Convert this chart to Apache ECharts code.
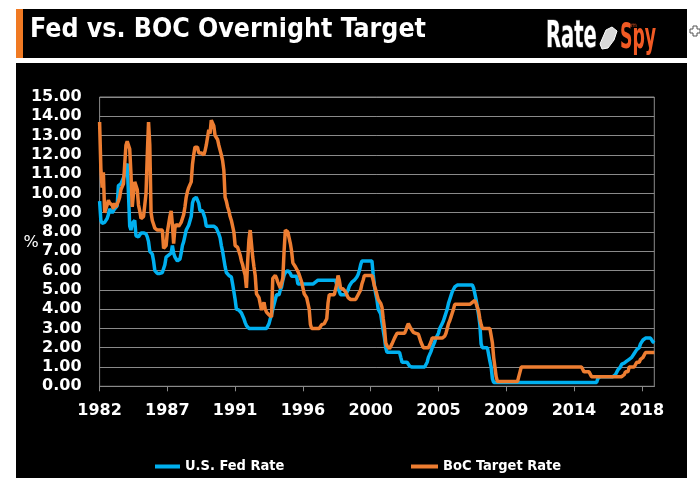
<!DOCTYPE html>
<html>
<head>
<meta charset="utf-8">
<script src="https://cdn.jsdelivr.net/npm/echarts@6/dist/echarts.min.js"></script>
<style>
  html, body { margin: 0; padding: 0; background: #ffffff; }
  #chart { width: 700px; height: 489px; }
</style>
</head>
<body>
<div id="chart"></div>
<script>
// Monthly data starting October 1982
const startYear = 1982;
const startMonth = 10;
const seriesNames = ['U.S. Fed Rate', 'BoC Target Rate'];
const titleText = 'Fed vs. BOC Overnight Target';

const fedRate = [
9.6, 8.6, 8.45, 8.45, 8.5, 8.6, 8.7, 8.9, 9.2, 9.1,
9.0, 9.1, 9.2, 9.3, 9.35, 10.4, 10.5, 10.5, 10.6, 10.8,
11.0, 11.3, 11.55, 10.0, 8.3, 8.1, 8.45, 8.5, 8.6, 7.8,
7.75, 7.75, 7.8, 7.95, 8.0, 7.95, 7.9, 7.9, 7.75, 7.5,
7.0, 6.95, 6.85, 6.5, 6.0, 5.9, 5.85, 5.85, 5.85, 5.85,
5.9, 6.0, 6.3, 6.7, 6.75, 6.8, 6.8, 6.9, 7.3, 6.9,
6.7, 6.6, 6.5, 6.5, 6.6, 6.9, 7.3, 7.5, 7.8, 8.1,
8.2, 8.35, 8.4, 8.8, 9.5, 9.7, 9.8, 9.8, 9.75, 9.5,
9.1, 9.1, 9.1, 9.0, 8.7, 8.3, 8.3, 8.3, 8.3, 8.3,
8.3, 8.3, 8.3, 8.2, 8.1, 7.9, 7.7, 7.3, 7.0, 6.6,
6.2, 5.9, 5.8, 5.75, 5.7, 5.67, 5.3, 4.9, 4.5, 4.0,
4.0, 3.95, 3.95, 3.8, 3.7, 3.5, 3.3, 3.15, 3.05, 3.0,
3.0, 3.0, 3.0, 3.0, 3.0, 3.0, 3.0, 3.0, 3.0, 3.0,
3.0, 3.0, 3.0, 3.0, 3.0, 3.25, 3.5, 3.7, 4.0, 4.25,
4.5, 4.75, 4.75, 4.75, 5.0, 5.15, 5.5, 5.75, 5.9, 6.0,
6.0, 6.0, 5.85, 5.7, 5.7, 5.7, 5.7, 5.7, 5.3, 5.3,
5.3, 5.3, 5.3, 5.3, 5.3, 5.3, 5.3, 5.3, 5.3, 5.3,
5.3, 5.3, 5.4, 5.5, 5.5, 5.5, 5.5, 5.5, 5.5, 5.5,
5.5, 5.5, 5.5, 5.5, 5.5, 5.5, 5.5, 5.5, 5.5, 5.25,
5.1, 5.0, 4.75, 4.75, 4.75, 4.75, 4.75, 4.75, 5.0, 5.2,
5.25, 5.4, 5.4, 5.5, 5.5, 5.67, 5.8, 6.0, 6.3, 6.5,
6.5, 6.5, 6.5, 6.5, 6.5, 6.5, 6.5, 6.5, 5.8, 5.2,
4.8, 4.5, 4.0, 3.9, 3.75, 3.3, 2.9, 2.5, 2.0, 1.76,
1.76, 1.76, 1.76, 1.76, 1.76, 1.76, 1.76, 1.76, 1.76, 1.76,
1.5, 1.25, 1.25, 1.25, 1.25, 1.25, 1.25, 1.05, 1.0, 1.0,
1.0, 1.0, 1.0, 1.0, 1.0, 1.0, 1.0, 1.0, 1.0, 1.0,
1.1, 1.25, 1.5, 1.6, 1.8, 2.0, 2.1, 2.3, 2.5, 2.6,
2.75, 3.0, 3.1, 3.25, 3.4, 3.6, 3.8, 4.0, 4.3, 4.5,
4.7, 4.9, 5.0, 5.15, 5.25, 5.25, 5.25, 5.25, 5.25, 5.25,
5.25, 5.25, 5.25, 5.25, 5.25, 5.25, 5.25, 5.25, 5.1, 4.8,
4.5, 4.1, 3.7, 3.2, 2.2, 2.0, 2.0, 2.0, 2.0, 2.0,
2.0, 1.3, 1.0, 0.4, 0.2, 0.2, 0.2, 0.2, 0.2, 0.2,
0.2, 0.2, 0.2, 0.2, 0.2, 0.2, 0.2, 0.2, 0.2, 0.2,
0.2, 0.2, 0.2, 0.2, 0.2, 0.2, 0.2, 0.2, 0.2, 0.2,
0.2, 0.2, 0.2, 0.2, 0.2, 0.2, 0.2, 0.2, 0.2, 0.2,
0.2, 0.2, 0.2, 0.2, 0.2, 0.2, 0.2, 0.2, 0.2, 0.2,
0.2, 0.2, 0.2, 0.2, 0.2, 0.2, 0.2, 0.2, 0.2, 0.2,
0.2, 0.2, 0.2, 0.2, 0.2, 0.2, 0.2, 0.2, 0.2, 0.2,
0.2, 0.2, 0.2, 0.2, 0.2, 0.2, 0.2, 0.2, 0.2, 0.2,
0.2, 0.2, 0.2, 0.2, 0.2, 0.2, 0.2, 0.4, 0.5, 0.5,
0.5, 0.5, 0.5, 0.5, 0.5, 0.5, 0.5, 0.5, 0.5, 0.5,
0.5, 0.6, 0.7, 0.85, 0.9, 1.0, 1.15, 1.2, 1.2, 1.2,
1.3, 1.3, 1.4, 1.5, 1.5, 1.6, 1.7, 1.75, 1.9, 2.0,
2.0, 2.2, 2.25, 2.4, 2.5, 2.5, 2.5, 2.5, 2.5, 2.5,
2.4, 2.3, 2.25
];

const bocRate = [
13.7, 11.3, 10.3, 11.1, 9.0, 8.9, 9.4, 9.65, 9.5, 9.6,
9.4, 9.2, 9.5, 9.3, 9.2, 9.6, 9.8, 10.2, 10.3, 10.5,
11.5, 12.5, 12.7, 12.6, 12.3, 11.0, 9.3, 10.0, 10.6, 10.5,
10.2, 9.4, 9.1, 8.7, 8.6, 8.8, 8.9, 10.0, 12.0, 13.7,
12.5, 9.0, 8.6, 8.4, 8.2, 8.2, 8.1, 8.0, 8.1, 8.2,
8.1, 7.15, 7.15, 7.3, 8.0, 8.4, 8.8, 9.1, 8.4, 7.4,
8.2, 8.4, 8.3, 8.3, 8.4, 8.5, 8.7, 8.9, 9.3, 9.8,
10.1, 10.3, 10.4, 10.6, 11.5, 12.0, 12.4, 12.5, 12.4, 12.1,
12.0, 12.1, 12.1, 12.0, 12.2, 12.5, 12.9, 13.3, 13.1, 13.8,
13.7, 13.5, 13.0, 13.0, 12.8, 12.5, 12.4, 12.0, 11.7, 11.2,
9.8, 9.6, 9.3, 9.1, 8.8, 8.6, 8.5, 8.0, 7.3, 7.2,
7.2, 7.1, 6.8, 6.5, 6.3, 6.0, 5.75, 5.1, 6.5, 7.6,
8.1, 7.4, 6.7, 6.2, 5.75, 4.8, 4.7, 4.6, 4.5, 3.95,
4.2, 4.35, 4.0, 3.85, 3.9, 3.7, 3.7, 3.6, 5.6, 5.7,
5.75, 5.6, 5.4, 5.3, 5.1, 5.0, 5.6, 7.0, 8.1, 8.1,
8.0, 7.7, 7.4, 7.0, 6.4, 6.3, 6.2, 6.1, 5.95, 5.8,
5.6, 5.4, 5.1, 4.8, 4.7, 4.6, 4.5, 4.0, 3.2, 3.0,
3.0, 3.0, 3.0, 3.0, 3.0, 3.0, 3.1, 3.2, 3.25, 3.25,
3.3, 3.5, 4.3, 4.75, 4.75, 4.75, 4.75, 4.75, 4.8, 5.3,
5.75, 5.5, 5.1, 5.05, 5.05, 5.0, 4.9, 4.75, 4.6, 4.5,
4.5, 4.5, 4.5, 4.5, 4.5, 4.6, 4.75, 4.75, 5.0, 5.3,
5.5, 5.75, 5.75, 5.75, 5.75, 5.75, 5.75, 5.75, 5.5, 5.2,
5.0, 4.75, 4.5, 4.5, 4.3, 4.1, 3.5, 3.0, 2.25, 2.1,
2.0, 1.95, 2.0, 2.2, 2.3, 2.5, 2.6, 2.75, 2.75, 2.75,
2.75, 2.75, 2.75, 2.75, 2.9, 3.1, 3.25, 3.2, 3.0, 2.9,
2.8, 2.75, 2.75, 2.75, 2.7, 2.5, 2.3, 2.2, 2.0, 2.0,
2.0, 2.0, 2.0, 2.0, 2.3, 2.5, 2.5, 2.5, 2.5, 2.5,
2.5, 2.5, 2.5, 2.5, 2.5, 2.6, 2.75, 3.0, 3.25, 3.4,
3.6, 3.8, 4.0, 4.25, 4.25, 4.25, 4.25, 4.25, 4.25, 4.25,
4.25, 4.25, 4.25, 4.25, 4.25, 4.25, 4.25, 4.35, 4.45, 4.45,
4.3, 4.1, 3.9, 3.5, 3.2, 3.0, 3.0, 3.0, 3.0, 3.0,
3.0, 3.0, 3.0, 2.25, 1.5, 1.0, 0.5, 0.25, 0.25, 0.25,
0.25, 0.25, 0.25, 0.25, 0.25, 0.25, 0.25, 0.25, 0.25, 0.25,
0.25, 0.25, 0.25, 0.25, 0.5, 0.75, 1.0, 1.0, 1.0, 1.0,
1.0, 1.0, 1.0, 1.0, 1.0, 1.0, 1.0, 1.0, 1.0, 1.0,
1.0, 1.0, 1.0, 1.0, 1.0, 1.0, 1.0, 1.0, 1.0, 1.0,
1.0, 1.0, 1.0, 1.0, 1.0, 1.0, 1.0, 1.0, 1.0, 1.0,
1.0, 1.0, 1.0, 1.0, 1.0, 1.0, 1.0, 1.0, 1.0, 1.0,
1.0, 1.0, 1.0, 1.0, 1.0, 1.0, 0.75, 0.75, 0.75, 0.75,
0.75, 0.75, 0.5, 0.5, 0.5, 0.5, 0.5, 0.5, 0.5, 0.5,
0.5, 0.5, 0.5, 0.5, 0.5, 0.5, 0.5, 0.5, 0.5, 0.5,
0.5, 0.5, 0.5, 0.5, 0.5, 0.5, 0.5, 0.5, 0.6, 0.75,
0.75, 0.75, 1.0, 1.0, 1.0, 1.0, 1.0, 1.1, 1.25, 1.25,
1.25, 1.4, 1.5, 1.5, 1.5, 1.75, 1.75, 1.75, 1.75, 1.75,
1.75, 1.75, 1.75
];

// month categories (YYYY-MM), labelled by year every 54 months
const categories = fedRate.map(function (_, i) {
  const m = startMonth - 1 + i;
  return (startYear + Math.floor(m / 12)) + '-' + String(m % 12 + 1).padStart(2, '0');
});

const chart = echarts.init(document.getElementById('chart'), null, { renderer: 'canvas' });

const gridColor = '#8a8a8a';
const fedColor = '#00b0f0';
const bocColor = '#ed7d31';
const condFont = '"DejaVu Sans Condensed", "DejaVu Sans", sans-serif';

chart.setOption({
  animation: false,
  backgroundColor: '#ffffff',
  graphic: [
    { type: 'rect', z: -10, shape: { x: 16, y: 9, width: 671, height: 49 }, style: { fill: '#000000' } },
    { type: 'rect', z: -9, shape: { x: 16, y: 9, width: 7, height: 49 }, style: { fill: '#f07a23' } },
    { type: 'rect', z: -10, shape: { x: 16, y: 63, width: 671, height: 415 }, style: { fill: '#000000' } },
    { type: 'text', z: 5, x: 30, y: 30, style: {
        text: titleText, fill: '#ffffff', fontSize: 26.5, fontWeight: 'bold',
        fontFamily: condFont, verticalAlign: 'middle', align: 'left' } },
    { type: 'text', z: 5, x: 546, y: 37, scaleX: 0.57, style: {
        text: 'Rate', fill: '#ffffff', stroke: '#3a3a3a', lineWidth: 1.5, fontSize: 38, fontWeight: 'bold',
        fontFamily: condFont, verticalAlign: 'middle', align: 'left' } },
    { type: 'polygon', z: 5, shape: { points: [[600,44],[606,30],[612,27],[617,31],[614,40],[608,48],[602,49]] },
      style: { fill: '#d8d8d8', stroke: '#ffffff', lineWidth: 1 } },
    { type: 'text', z: 5, x: 620, y: 39, scaleX: 0.55, style: {
        text: 'Spy', fill: '#f15a24', fontSize: 35, fontWeight: 'bold',
        fontFamily: condFont, verticalAlign: 'middle', align: 'left' } },
    { type: 'text', z: 6, x: 622, y: 25, style: {
        text: '.com', fill: '#f15a24', fontSize: 6,
        fontFamily: '"DejaVu Sans", sans-serif', verticalAlign: 'middle', align: 'left' } },
    { type: 'polygon', z: 5, shape: { points: [[693,26],[697,26],[697,29],[700,29],[700,33],[697,33],[697,36],[693,36],[693,33],[690,33],[690,29],[693,29]] },
      style: { fill: '#ffffff', stroke: '#555555', lineWidth: 1 } },
    { type: 'text', z: 5, x: 31, y: 243, style: {
        text: '%', fill: '#ffffff', fontSize: 16,
        fontFamily: '"DejaVu Sans", sans-serif', verticalAlign: 'middle', align: 'center' } }
  ],
  grid: {
    left: 99.6, right: 45.7, top: 97, bottom: 102.7,
    show: true, borderColor: gridColor, borderWidth: 1, backgroundColor: 'transparent'
  },
  legend: [
    { data: [seriesNames[0]], left: 155, top: 459, padding: 0, icon: 'rect', itemWidth: 25, itemHeight: 4,
      textStyle: { color: '#ffffff', fontSize: 14.5, fontWeight: 'bold', fontFamily: condFont } },
    { data: [seriesNames[1]], left: 411, top: 459, padding: 0, icon: 'rect', itemWidth: 27, itemHeight: 4,
      textStyle: { color: '#ffffff', fontSize: 14.5, fontWeight: 'bold', fontFamily: condFont } }
  ],
  xAxis: {
    type: 'category',
    data: categories,
    boundaryGap: false,
    axisLine: { show: true, lineStyle: { color: gridColor, width: 1 } },
    axisTick: { show: true, interval: 53, length: 5, lineStyle: { color: gridColor } },
    axisLabel: {
      interval: 53, margin: 17, color: '#ffffff', fontSize: 16, fontWeight: 'bold',
      fontFamily: '"DejaVu Sans", sans-serif',
      formatter: function (v) { return v.slice(0, 4); }
    },
    splitLine: { show: false }
  },
  yAxis: {
    type: 'value',
    min: 0, max: 15, interval: 1,
    axisLine: { show: false },
    axisTick: { show: false },
    axisLabel: {
      margin: 18, color: '#ffffff', fontSize: 16, fontWeight: 'bold',
      fontFamily: '"DejaVu Sans", sans-serif',
      formatter: function (v) { return v.toFixed(2); }
    },
    splitLine: { show: true, lineStyle: { color: gridColor, width: 1 } }
  },
  series: [
    { name: seriesNames[0], type: 'line', data: fedRate, showSymbol: false, symbol: 'none',
      color: fedColor, lineStyle: { color: fedColor, width: 3.5 }, itemStyle: { color: fedColor } },
    { name: seriesNames[1], type: 'line', data: bocRate, showSymbol: false, symbol: 'none',
      color: bocColor, lineStyle: { color: bocColor, width: 3.5 }, itemStyle: { color: bocColor } }
  ]
});
</script>
</body>
</html>
